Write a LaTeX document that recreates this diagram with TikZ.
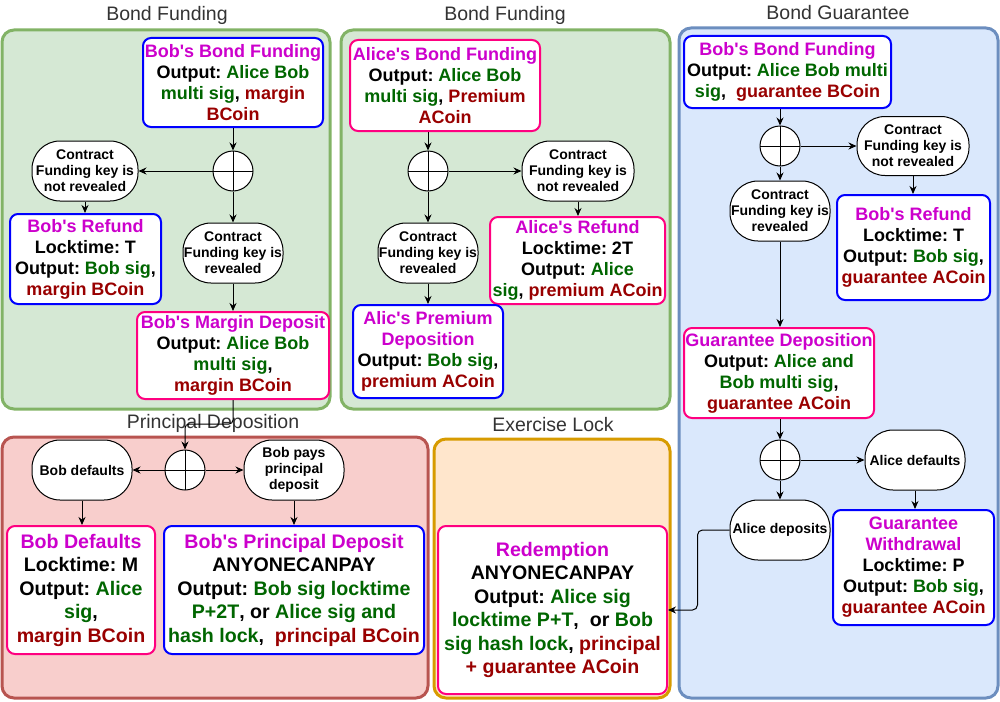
\documentclass[tikz,border=0pt]{standalone}
\usepackage{fontspec}
\setmainfont{Liberation Sans}[Ligatures=TeXOff]
\usetikzlibrary{arrows.meta,calc}
\frenchspacing
\definecolor{mag}{HTML}{CC00CC}
\definecolor{grn}{HTML}{006600}
\definecolor{drd}{HTML}{990000}
\definecolor{bbl}{HTML}{0000FF}
\definecolor{pnk}{HTML}{FF0080}
\definecolor{gfill}{HTML}{D5E8D4}\definecolor{gline}{HTML}{82B366}
\definecolor{bfill}{HTML}{DAE8FC}\definecolor{bline}{HTML}{6C8EBF}
\definecolor{rfill}{HTML}{F8CECC}\definecolor{rline}{HTML}{B85450}
\definecolor{ofill}{HTML}{FFE6CC}\definecolor{oline}{HTML}{D79B00}
\definecolor{ttl}{HTML}{333333}
\newcommand\mgt[1]{\textcolor{mag}{#1}}
\newcommand\grt[1]{\textcolor{grn}{#1}}
\newcommand\rdt[1]{\textcolor{drd}{#1}}
\tikzset{
  container/.style={line width=3pt, rounded corners=12pt},
  title/.style={font=\fontsize{19.5}{22}\selectfont, text=ttl, inner sep=0pt},
  box/.style={rectangle, rounded corners=8pt, line width=2pt, fill=white, align=center, inner sep=0pt, font=\fontsize{18}{21}\selectfont\bfseries\frenchspacing},
  bluebox/.style={box, draw=bbl},
  pinkbox/.style={box, draw=pnk},
  tall/.style={font=\fontsize{19.6}{23.5}\selectfont\bfseries\frenchspacing},
  cond/.style={rectangle, rounded corners=28pt, draw, line width=1pt, fill=white, align=center, inner sep=0pt, font=\fontsize{14}{16}\selectfont\bfseries},
  xor/.style={circle, draw, line width=1pt, fill=white, minimum size=40pt, inner sep=0pt,
    path picture={\draw[line width=1pt] (path picture bounding box.north) -- (path picture bounding box.south) (path picture bounding box.west) -- (path picture bounding box.east);}},
  arr/.style={-{Stealth[length=8pt,width=7pt]}, line width=1pt}
}
\begin{document}
\begin{tikzpicture}[x=1pt,y=-1pt]
\useasboundingbox (0,0) rectangle (1000,701);
% containers
\draw[container, draw=gline, fill=gfill] (2,30) rectangle (330,409);
\draw[container, draw=gline, fill=gfill] (341,30) rectangle (670,409);
\draw[container, draw=bline, fill=bfill] (679,28) rectangle (998,698);
\draw[container, draw=rline, fill=rfill] (2,437) rectangle (428,698);
\draw[container, draw=oline, fill=ofill] (434,439) rectangle (670,698);
% titles
\node[title] (t1) at (167,15) {Bond Funding};
\node[title] (t2) at (505,15) {Bond Funding};
\node[title] (t3) at (838,13) {Bond Guarantee};
\node[title] (t4) at (213,423) {Principal Deposition};
\node[title] (t5) at (553,425) {Exercise Lock};

% container 1
\node[bluebox, minimum width=180pt, minimum height=89pt] (bbf1) at (233,82.5)
  {\mgt{Bob's Bond Funding}\\ Output: \grt{Alice Bob}\\ \grt{multi sig}, \rdt{margin}\\ \rdt{BCoin}};
\node[xor] (x1) at (233,171) {};
\node[cond, minimum width=106pt, minimum height=60pt] (nr1) at (85,171) {Contract\\ Funding key is\\ not revealed};
\node[bluebox, minimum width=151pt, minimum height=90pt] (ref1) at (85.5,259)
  {\mgt{Bob's Refund}\\ Locktime: T\\ Output: \grt{Bob sig},\\ \rdt{margin BCoin}};
\node[cond, minimum width=100pt, minimum height=60pt] (rv1) at (233,253) {Contract\\ Funding key is\\ revealed};
\node[pinkbox, minimum width=192pt, minimum height=87pt] (mar) at (233,355.5)
  {\mgt{Bob's Margin Deposit}\\ Output: \grt{Alice Bob}\\ \grt{multi sig},\\ \rdt{margin BCoin}};

% container 2
\node[pinkbox, minimum width=190pt, minimum height=91pt] (abf) at (445,85.5)
  {\mgt{Alice's Bond Funding}\\ Output: \grt{Alice Bob}\\ \grt{multi sig}, \rdt{Premium}\\ \rdt{ACoin}};
\node[xor] (x2) at (428,171) {};
\node[cond, minimum width=112pt, minimum height=60pt] (nr2) at (578,171) {Contract\\ Funding key is\\ not revealed};
\node[cond, minimum width=100pt, minimum height=60pt] (rv2) at (428,253) {Contract\\ Funding key is\\ revealed};
\node[pinkbox, minimum width=175pt, minimum height=87pt] (aref) at (577.5,260.5)
  {\mgt{Alice's Refund}\\ Locktime: 2T\\ Output: \grt{Alice}\\ \grt{sig}, \rdt{premium ACoin}};
\node[bluebox, minimum width=150pt, minimum height=93pt] (prem) at (428,351.5)
  {\mgt{Alic's Premium}\\ \mgt{Deposition}\\ Output: \grt{Bob sig},\\ \rdt{premium ACoin}};

% container 3
\node[bluebox, minimum width=207pt, minimum height=72pt] (bbf3) at (787.5,72)
  {\mgt{Bob's Bond Funding}\\ Output: \grt{Alice Bob multi}\\ \grt{sig},\ \ \rdt{guarantee BCoin}};
\node[xor] (x3) at (780,146) {};
\node[cond, minimum width=112pt, minimum height=59pt] (nr3) at (913,146) {Contract\\ Funding key is\\ not revealed};
\node[cond, minimum width=100pt, minimum height=60pt] (rv3) at (780,211) {Contract\\ Funding key is\\ revealed};
\node[bluebox, minimum width=153pt, minimum height=105pt] (ref3) at (913.5,247.5)
  {\mgt{Bob's Refund}\\ Locktime: T\\ Output: \grt{Bob sig},\\ \rdt{guarantee ACoin}};
\node[pinkbox, minimum width=190pt, minimum height=90pt] (gdep) at (779,373)
  {\mgt{Guarantee Deposition}\\ Output: \grt{Alice and}\\ \grt{Bob multi sig},\\ \rdt{guarantee ACoin}};
\node[xor] (x5) at (780,460) {};
\node[cond, minimum width=100pt, minimum height=60pt] (ad) at (915,460) {Alice defaults};
\node[cond, minimum width=100pt, minimum height=60pt] (adep) at (780,530) {Alice deposits};
\node[bluebox, minimum width=161pt, minimum height=115pt] (gw) at (913.5,567.5)
  {\mgt{Guarantee}\\ \mgt{Withdrawal}\\ Locktime: P\\ Output: \grt{Bob sig},\\ \rdt{guarantee ACoin}};

% container 4
\node[xor] (x4) at (185,470) {};
\node[cond, minimum width=100pt, minimum height=60pt] (bd) at (82,470) {Bob defaults};
\node[cond, minimum width=100pt, minimum height=60pt] (bp) at (294,470) {Bob pays\\ principal\\ deposit};
\node[pinkbox, tall, minimum width=148pt, minimum height=128pt] (bdef) at (81,590)
  {\mgt{Bob Defaults}\\ Locktime: M\\ Output: \grt{Alice}\\ \grt{sig},\\ \rdt{margin BCoin}};
\node[bluebox, tall, minimum width=260pt, minimum height=128pt] (bpd) at (294,590)
  {\mgt{Bob's Principal Deposit}\\ ANYONECANPAY\\ Output: \grt{Bob sig locktime}\\ \grt{P+2T}, or \grt{Alice sig and}\\ \grt{hash lock},\ \ \rdt{principal BCoin}};

% container 5
\node[pinkbox, tall, minimum width=229pt, minimum height=168pt] (red) at (552.5,610)
  {\mgt{Redemption}\\ ANYONECANPAY\\ Output: \grt{Alice sig}\\ \grt{locktime P+T},\ \ or \grt{Bob}\\ \grt{sig hash lock}, \rdt{principal}\\ \rdt{+ guarantee ACoin}};

% arrows container 1
\draw[arr] (bbf1.south) -- (x1.north);
\draw[arr] (x1.west) -- (nr1.east);
\draw[arr] (x1.south) -- (rv1.north);
\draw[arr] (nr1.south) -- (nr1.south |- ref1.north);
\draw[arr] (rv1.south) -- (mar.north);
\draw[arr, rounded corners=4pt] (mar.south) -- ++(0,24) -| (x4.north);
% arrows container 2
\draw[arr] (abf.south -| x2.north) -- (x2.north);
\draw[arr] (x2.east) -- (nr2.west);
\draw[arr] (x2.south) -- (rv2.north);
\draw[arr] (nr2.south) -- (nr2.south |- aref.north);
\draw[arr] (rv2.south) -- (rv2.south |- prem.north);
% arrows container 3
\draw[arr] (bbf3.south -| x3.north) -- (x3.north);
\draw[arr] (x3.east) -- (nr3.west);
\draw[arr] (x3.south) -- (rv3.north);
\draw[arr] (nr3.south) -- (nr3.south |- ref3.north);
\draw[arr] (rv3.south) -- (rv3.south |- gdep.north);
\draw[arr] (gdep.south -| x5.north) -- (x5.north);
\draw[arr] (x5.east) -- (ad.west);
\draw[arr] (x5.south) -- (adep.north);
\draw[arr] (ad.south) -- (ad.south |- gw.north);
\draw[arr, rounded corners=5pt] (adep.west) -- ++(-32,0) |- (red.east);
% arrows container 4
\draw[arr] (x4.west) -- (bd.east);
\draw[arr] (x4.east) -- (bp.west);
\draw[arr] (bd.south) -- (bd.south |- bdef.north);
\draw[arr] (bp.south) -- (bp.south |- bpd.north);
\end{tikzpicture}
\end{document}
